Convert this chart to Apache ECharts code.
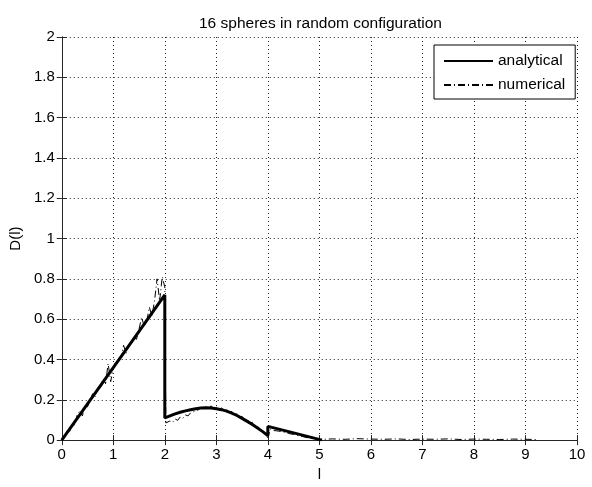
<!DOCTYPE html>
<html>
<head>
<meta charset="utf-8">
<script src="https://cdn.jsdelivr.net/npm/echarts@6/dist/echarts.min.js"></script>
<style>
html,body{margin:0;padding:0;background:#fff;}
#main{width:592px;height:487px;}
</style>
</head>
<body>
<div id="main"></div>
<script>
// 解析解 D(l)
var anaL = [0, 0.5, 1, 1.5, 2, 2, 2.1, 2.2, 2.3, 2.4, 2.5, 2.6, 2.7, 2.8, 2.9, 3.0, 3.1, 3.2, 3.3, 3.4, 3.5, 3.6, 3.7, 3.8, 3.9, 4.0, 4.0, 4.5, 5.05];
var anaD = [0, 0.18, 0.36, 0.54, 0.72, 0.11, 0.12, 0.13, 0.138, 0.145, 0.151, 0.156, 0.159, 0.16, 0.159, 0.156, 0.151, 0.144, 0.134, 0.122, 0.108, 0.093, 0.077, 0.06, 0.042, 0.022, 0.068, 0.036, 0];
// 数值解 D(l)
var numL = [0, 0.05, 0.1, 0.15, 0.2, 0.25, 0.3, 0.35, 0.4, 0.45, 0.5, 0.55, 0.6, 0.65, 0.7, 0.75, 0.8, 0.85, 0.9, 0.95,
    1.0, 1.05, 1.1, 1.15, 1.2, 1.25, 1.3, 1.35, 1.4, 1.45, 1.5, 1.55, 1.6, 1.65, 1.7, 1.75, 1.8, 1.85, 1.9, 1.95, 2.0,
    2.02, 2.05, 2.1, 2.15, 2.2, 2.25, 2.3, 2.35, 2.4, 2.45, 2.5, 2.55, 2.6, 2.65, 2.7, 2.75, 2.8, 2.85, 2.9, 2.95,
    3.0, 3.05, 3.1, 3.15, 3.2, 3.25, 3.3, 3.35, 3.4, 3.45, 3.5, 3.55, 3.6, 3.65, 3.7, 3.75, 3.8, 3.85, 3.9, 3.95,
    4.0, 4.05, 4.1, 4.2, 4.3, 4.4, 4.5, 4.6, 4.7, 4.8, 4.9, 5.0,
    5.25, 5.5, 5.75, 6.0, 6.25, 6.5, 6.75, 7.0, 7.25, 7.5, 7.75, 8.0, 8.25, 8.5, 8.75, 9.0, 9.2];
var numD = [0, 0.01, 0.045, 0.04, 0.08, 0.075, 0.125, 0.145, 0.12, 0.17, 0.165, 0.2, 0.23, 0.215, 0.255, 0.26, 0.305, 0.28, 0.38, 0.29,
    0.36, 0.39, 0.385, 0.41, 0.47, 0.43, 0.47, 0.48, 0.51, 0.5, 0.55, 0.61, 0.565, 0.59, 0.66, 0.615, 0.69, 0.8, 0.69, 0.81, 0.76,
    0.085, 0.078, 0.095, 0.088, 0.105, 0.098, 0.115, 0.108, 0.125, 0.12, 0.135, 0.14, 0.145, 0.15, 0.16, 0.155, 0.167, 0.158, 0.17, 0.156,
    0.164, 0.15, 0.16, 0.146, 0.152, 0.136, 0.142, 0.124, 0.132, 0.11, 0.118, 0.098, 0.104, 0.084, 0.088, 0.068, 0.07, 0.05, 0.046, 0.03,
    0.012, 0.055, 0.048, 0.045, 0.04, 0.033, 0.028, 0.022, 0.016, 0.01, 0.006, 0.003,
    0.006, 0.004, 0.007, 0.005, 0.004, 0.006, 0.003, 0.005, 0.004, 0.006, 0.003, 0.005, 0.004, 0.003, 0.005, 0.004, 0.003];

var font = '"Liberation Sans", Arial, sans-serif';

function pairs(xs, ys) {
    var out = [];
    for (var i = 0; i < xs.length; i++) out.push([xs[i], ys[i]]);
    return out;
}

var myChart = echarts.init(document.getElementById('main'));
var frameAxis = {
    axisLine: {show: true, lineStyle: {color: '#262626', width: 1}},
    axisTick: {show: true, inside: true, length: 5, lineStyle: {color: '#262626'}},
    axisLabel: {show: false},
    splitLine: {show: false}
};
var option = {
    animation: false,
    title: {
        text: '16 spheres in random configuration',
        left: 194,
        top: 11,
        textStyle: {fontFamily: font, fontSize: 15.5, fontWeight: 'normal', color: '#000'}
    },
    legend: {
        orient: 'vertical',
        left: 434,
        top: 45,
        padding: [8, 10, 6, 9],
        itemWidth: 49,
        itemHeight: 14,
        itemGap: 8,
        borderColor: '#000',
        borderWidth: 1,
        backgroundColor: '#fff',
        itemStyle: {opacity: 0, borderWidth: 0},
        textStyle: {fontFamily: font, fontSize: 15.5, color: '#000'},
        data: ['analytical', 'numerical']
    },
    grid: {left: 61, right: 15, top: 37, bottom: 39},
    xAxis: [
        {
            type: 'value', min: 0, max: 10, interval: 1,
            name: 'l', nameLocation: 'middle', nameGap: 26,
            nameTextStyle: {fontFamily: font, fontSize: 15, color: '#000'},
            axisLine: {show: true, lineStyle: {color: '#262626', width: 1}},
            axisTick: {show: true, inside: true, length: 5, lineStyle: {color: '#262626'}},
            axisLabel: {fontFamily: font, fontSize: 15, color: '#000', margin: 7},
            splitLine: {show: true, lineStyle: {color: '#222', width: 1, type: [1, 3]}}
        },
        echarts.util.merge({type: 'value', min: 0, max: 10, interval: 1, position: 'top'}, frameAxis)
    ],
    yAxis: [
        {
            type: 'value', min: 0, max: 2, interval: 0.2,
            name: 'D(l)', nameLocation: 'middle', nameGap: 36,
            nameTextStyle: {fontFamily: font, fontSize: 15, color: '#000'},
            axisLine: {show: true, lineStyle: {color: '#262626', width: 1}},
            axisTick: {show: true, inside: true, length: 5, lineStyle: {color: '#262626'}},
            axisLabel: {fontFamily: font, fontSize: 15, color: '#000', margin: 7},
            splitLine: {show: true, lineStyle: {color: '#222', width: 1, type: [1, 3]}}
        },
        echarts.util.merge({type: 'value', min: 0, max: 2, interval: 0.2, position: 'right'}, frameAxis)
    ],
    series: [
        {
            name: 'analytical',
            type: 'line',
            symbol: 'none',
            data: pairs(anaL, anaD),
            lineStyle: {color: '#000', width: 3},
            itemStyle: {color: '#000'},
            z: 3
        },
        {
            name: 'numerical',
            type: 'line',
            symbol: 'none',
            data: pairs(numL, numD),
            lineStyle: {color: '#000', width: 1, type: [7, 3, 1, 3]},
            itemStyle: {color: '#000'},
            z: 4
        }
    ]
};
myChart.setOption(option);
</script>
</body>
</html>
